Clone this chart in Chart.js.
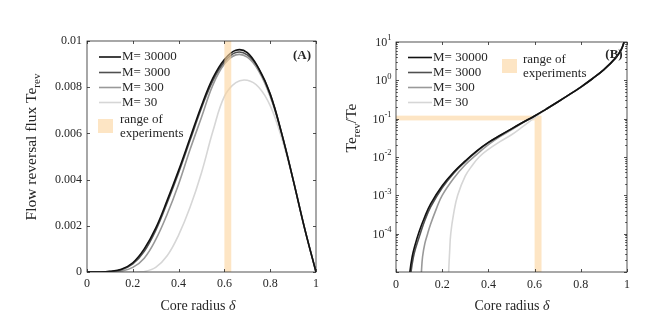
<!DOCTYPE html>
<html>
<head>
<meta charset="utf-8">
<script src="https://cdn.jsdelivr.net/npm/chart.js@4.4.1/dist/chart.umd.min.js"></script>
<style>
  body { margin: 0; background: #fff; }
  #page { position: relative; width: 664px; height: 331px; overflow: hidden; background: #fff; }
  #chartA { position: absolute; left: 0; top: 0; }
  #chartB { position: absolute; left: 332px; top: 0; }
</style>
</head>
<body>
<div id="page">
  <canvas id="chartA" width="332" height="331"></canvas>
  <canvas id="chartB" width="332" height="331"></canvas>
</div>
<script>
// ---- data ----
const seriesNames = ['M= 30000', 'M= 3000', 'M= 300', 'M= 30'];
const seriesColors = ['#111111', '#505050', '#999999', '#d6d6d6'];

// (A) flow reversal flux Te_rev vs core radius
const deltaA = [0, 0.05, 0.1, 0.15, 0.2, 0.25, 0.3, 0.35, 0.4, 0.45, 0.5, 0.55, 0.6, 0.65, 0.7, 0.75, 0.8, 0.85, 0.9, 0.95, 1];
const fluxM30000 = [0, 0, 0.00003, 0.00012, 0.0004, 0.001, 0.0019, 0.0031, 0.0044, 0.0058, 0.0072, 0.0084, 0.0092, 0.0096, 0.0095, 0.0088, 0.0077, 0.006, 0.004, 0.0019, 0];
const fluxM3000 = [0, 0, 0.00002, 0.0001, 0.00035, 0.0009, 0.0018, 0.003, 0.0043, 0.0057, 0.0071, 0.0083, 0.0091, 0.0095, 0.0094, 0.0088, 0.0077, 0.006, 0.004, 0.0019, 0];
const fluxM300 = [0, 0, 0, 0.00004, 0.0002, 0.0006, 0.0014, 0.0025, 0.0038, 0.0053, 0.0067, 0.0081, 0.009, 0.0094, 0.0093, 0.0087, 0.0076, 0.006, 0.004, 0.0019, 0];
const fluxM30 = [0, 0, 0, 0, 0, 0.00002, 0.0002, 0.0007, 0.0016, 0.0028, 0.0043, 0.0061, 0.0076, 0.0082, 0.0083, 0.008, 0.0072, 0.0058, 0.004, 0.0019, 0];

// (B) Te_rev/Te vs core radius (log axis)
const deltaB30000 = [0.055, 0.06, 0.07, 0.08, 0.1, 0.125, 0.15, 0.2, 0.25, 0.3, 0.35, 0.4, 0.45, 0.5, 0.55, 0.6, 0.65, 0.7, 0.75, 0.8, 0.85, 0.9, 0.95, 0.975, 0.99];
const ratioM30000 = [4.5e-6, 1.0e-5, 2.5e-5, 4.5e-5, 1.12e-4, 2.8e-4, 6.0e-4, 1.78e-3, 4.07e-3, 7.94e-3, 0.0145, 0.024, 0.0363, 0.0543, 0.0804, 0.1175, 0.178, 0.272, 0.422, 0.668, 1.1, 1.91, 3.8, 6.31, 11.2];
const deltaB3000 = [0.06, 0.065, 0.075, 0.085, 0.105, 0.125, 0.15, 0.2, 0.25, 0.3, 0.35, 0.4, 0.45, 0.5, 0.55, 0.6, 0.65, 0.7, 0.75, 0.8, 0.85, 0.9, 0.95, 0.975, 0.99];
const ratioM3000 = [4.0e-6, 1.0e-5, 2.4e-5, 4.2e-5, 1.0e-4, 2.24e-4, 5.0e-4, 1.58e-3, 3.8e-3, 7.6e-3, 0.0141, 0.0237, 0.0363, 0.0543, 0.0804, 0.1175, 0.178, 0.272, 0.422, 0.668, 1.1, 1.91, 3.8, 6.31, 11.2];
const deltaB300 = [0.105, 0.11, 0.115, 0.125, 0.137, 0.15, 0.175, 0.2, 0.25, 0.3, 0.35, 0.4, 0.45, 0.5, 0.55, 0.6, 0.65, 0.7, 0.75, 0.8, 0.85, 0.9, 0.95, 0.975, 0.99];
const ratioM300 = [3.2e-6, 1.0e-5, 2.5e-5, 5.6e-5, 1.0e-4, 1.78e-4, 4.5e-4, 1.0e-3, 2.8e-3, 6.3e-3, 0.0117, 0.0209, 0.0339, 0.0513, 0.0794, 0.1175, 0.178, 0.272, 0.422, 0.668, 1.1, 1.91, 3.8, 6.31, 11.2];
const deltaB30 = [0.226, 0.228, 0.232, 0.237, 0.25, 0.267, 0.3, 0.33, 0.36, 0.4, 0.45, 0.5, 0.55, 0.6, 0.65, 0.7, 0.75, 0.8, 0.85, 0.9, 0.95, 0.975, 0.99];
const ratioM30 = [3.2e-6, 1.0e-5, 3.2e-5, 1.0e-4, 3.5e-4, 1.0e-3, 3.2e-3, 6.0e-3, 0.01, 0.0158, 0.0251, 0.038, 0.063, 0.107, 0.174, 0.272, 0.422, 0.668, 1.1, 1.91, 3.8, 6.31, 11.2];

// range of experiments
const bandDelta = [0.6, 0.63];
const bandRatio = [0.09, 0.12];

// ticks
const xTickVals = [0, 0.2, 0.4, 0.6, 0.8, 1];
const xTickLabels = ['0', '0.2', '0.4', '0.6', '0.8', '1'];
const yTickValsA = [0, 0.002, 0.004, 0.006, 0.008, 0.01];
const yTickLabelsA = ['0', '0.002', '0.004', '0.006', '0.008', '0.01'];
const yTickValsB = [1e-5, 1e-4, 1e-3, 1e-2, 1e-1, 1, 10];
const yTickExpB = ['', '-4', '-3', '-2', '-1', '0', '1'];

const FONT = "'Liberation Serif', 'DejaVu Serif', serif";
const INK = '#262626';
const BAND = 'rgba(252, 212, 157, 0.6)';
Chart.defaults.font.family = FONT;

function pts(xs, ys) {
  return xs.map((x, i) => ({ x: x, y: ys[i] }));
}

function makeDatasets(pairs) {
  return pairs.map((p, i) => ({
    label: seriesNames[i],
    data: pts(p[0], p[1]),
    borderColor: seriesColors[i],
    borderWidth: 1.6,
    pointRadius: 0,
    fill: false
  }));
}

// box round the plot with MATLAB style inward ticks
function drawFrame(chart, yVals, minor) {
  const { ctx, chartArea: a, scales: { x, y } } = chart;
  ctx.save();
  ctx.strokeStyle = INK;
  ctx.lineWidth = 0.8;
  ctx.strokeRect(a.left, a.top, a.right - a.left, a.bottom - a.top);
  ctx.beginPath();
  xTickVals.forEach(v => {
    const px = Math.round(x.getPixelForValue(v)) + 0.5;
    ctx.moveTo(px, a.bottom); ctx.lineTo(px, a.bottom - 3);
    ctx.moveTo(px, a.top); ctx.lineTo(px, a.top + 3);
  });
  yVals.forEach(v => {
    const py = Math.round(y.getPixelForValue(v)) + 0.5;
    ctx.moveTo(a.left, py); ctx.lineTo(a.left + 3, py);
    ctx.moveTo(a.right, py); ctx.lineTo(a.right - 3, py);
  });
  if (minor) {
    yVals.slice(0, -1).forEach(v => {
      for (let k = 2; k <= 9; k++) {
        const py = Math.round(y.getPixelForValue(v * k)) + 0.5;
        ctx.moveTo(a.left, py); ctx.lineTo(a.left + 1.8, py);
        ctx.moveTo(a.right, py); ctx.lineTo(a.right - 1.8, py);
      }
    });
  }
  ctx.stroke();
  ctx.restore();
}

function drawLegend(ctx, lineX0, lineX1, rows) {
  ctx.save();
  ctx.font = '13px ' + FONT;
  ctx.textBaseline = 'middle';
  ctx.fillStyle = INK;
  seriesNames.forEach((name, i) => {
    ctx.strokeStyle = seriesColors[i];
    ctx.lineWidth = 1.6;
    ctx.beginPath();
    ctx.moveTo(lineX0, rows[i]);
    ctx.lineTo(lineX1, rows[i]);
    ctx.stroke();
    ctx.fillText(name, lineX1 + 1, rows[i]);
  });
  ctx.restore();
}

function drawPatch(ctx, x, y, w, h, tx) {
  ctx.save();
  ctx.fillStyle = BAND;
  ctx.fillRect(x, y, w, h);
  ctx.font = '13px ' + FONT;
  ctx.textBaseline = 'middle';
  ctx.fillStyle = INK;
  ctx.fillText('range of', tx, y + 1);
  ctx.fillText('experiments', tx, y + 15);
  ctx.restore();
}

function drawXTitle(ctx, cx, cy) {
  ctx.save();
  ctx.fillStyle = INK;
  ctx.textBaseline = 'middle';
  ctx.font = '14px ' + FONT;
  const t1 = 'Core radius ';
  const w1 = ctx.measureText(t1).width;
  ctx.font = 'italic 14px ' + FONT;
  const w2 = ctx.measureText('\u03b4').width;
  let x0 = cx - (w1 + w2) / 2;
  ctx.font = '14px ' + FONT;
  ctx.fillText(t1, x0, cy);
  ctx.font = 'italic 14px ' + FONT;
  ctx.fillText('\u03b4', x0 + w1, cy);
  ctx.restore();
}

// rotated y title with a "rev" subscript
function drawYTitle(ctx, cx, cy, before, sub, after, size) {
  ctx.save();
  ctx.translate(cx, cy);
  ctx.rotate(-Math.PI / 2);
  ctx.fillStyle = INK;
  ctx.textBaseline = 'middle';
  const big = size + 'px ' + FONT;
  const small = Math.round(size * 0.7) + 'px ' + FONT;
  ctx.font = big;
  const w1 = ctx.measureText(before).width;
  const w3 = ctx.measureText(after).width;
  ctx.font = small;
  const w2 = ctx.measureText(sub).width;
  let x0 = -(w1 + w2 + w3) / 2;
  ctx.font = big;
  ctx.fillText(before, x0, 0);
  ctx.font = small;
  ctx.fillText(sub, x0 + w1, size * 0.3);
  ctx.font = big;
  ctx.fillText(after, x0 + w1 + w2, 0);
  ctx.restore();
}

function drawPanelTag(ctx, text, cx, cy) {
  ctx.save();
  ctx.font = 'bold 13px ' + FONT;
  ctx.fillStyle = INK;
  ctx.textAlign = 'center';
  ctx.textBaseline = 'middle';
  ctx.fillText(text, cx, cy);
  ctx.restore();
}

function axisCommon(extra) {
  return Object.assign({
    grid: { display: false, drawTicks: false, tickLength: 0 },
    border: { display: false }
  }, extra);
}

// ---- (A) ----
const chartA = new Chart(document.getElementById('chartA'), {
  type: 'line',
  data: {
    datasets: makeDatasets([
      [deltaA, fluxM30000], [deltaA, fluxM3000], [deltaA, fluxM300], [deltaA, fluxM30]
    ])
  },
  options: {
    responsive: false,
    animation: false,
    layout: { padding: { left: 27, right: 16, top: 41, bottom: 19 } },
    elements: { line: { tension: 0.4 } },
    plugins: { legend: { display: false }, tooltip: { enabled: false } },
    scales: {
      x: axisCommon({
        type: 'linear', min: 0, max: 1,
        afterFit: s => { s.height = 40; },
        afterBuildTicks: s => { s.ticks = xTickVals.map(v => ({ value: v })); },
        ticks: { padding: 5, color: INK, font: { size: 12 }, maxRotation: 0,
          callback: (v, i) => xTickLabels[i] }
      }),
      y: axisCommon({
        min: 0, max: 0.01,
        afterFit: s => { s.width = 60; },
        afterBuildTicks: s => { s.ticks = yTickValsA.map(v => ({ value: v })); },
        ticks: { padding: 5, color: INK, font: { size: 12 },
          callback: (v, i) => yTickLabelsA[i] }
      })
    }
  },
  plugins: [{
    id: 'decorA',
    afterDatasetsDraw(chart) {
      const { ctx, chartArea: a, scales: { x } } = chart;
      const x0 = x.getPixelForValue(bandDelta[0]);
      const x1 = x.getPixelForValue(bandDelta[1]);
      ctx.save();
      ctx.fillStyle = BAND;
      ctx.fillRect(x0, a.top, x1 - x0, a.bottom - a.top);
      ctx.restore();
      drawFrame(chart, yTickValsA, false);
    },
    afterDraw(chart) {
      const ctx = chart.ctx;
      drawLegend(ctx, 99, 121, [57, 72.5, 87.5, 102.5]);
      drawPatch(ctx, 98, 119, 15, 14, 120);
      drawPanelTag(ctx, '(A)', 302, 56);
      drawXTitle(ctx, 198, 306);
      drawYTitle(ctx, 32, 147, 'Flow reversal flux Te', 'rev', '', 15.5);
    }
  }]
});

// ---- (B) ----
const chartB = new Chart(document.getElementById('chartB'), {
  type: 'line',
  data: {
    datasets: makeDatasets([
      [deltaB30000, ratioM30000], [deltaB3000, ratioM3000], [deltaB300, ratioM300], [deltaB30, ratioM30]
    ])
  },
  options: {
    responsive: false,
    animation: false,
    layout: { padding: { left: 4, right: 37, top: 42, bottom: 19 } },
    elements: { line: { tension: 0.4 } },
    plugins: { legend: { display: false }, tooltip: { enabled: false } },
    scales: {
      x: axisCommon({
        type: 'linear', min: 0, max: 1,
        afterFit: s => { s.height = 40; },
        afterBuildTicks: s => { s.ticks = xTickVals.map(v => ({ value: v })); },
        ticks: { padding: 6, color: INK, font: { size: 12 }, maxRotation: 0,
          callback: (v, i) => xTickLabels[i] }
      }),
      y: axisCommon({
        type: 'logarithmic', min: 1e-5, max: 10,
        afterFit: s => { s.width = 60; },
        afterBuildTicks: s => { s.ticks = yTickValsB.map(v => ({ value: v })); },
        ticks: { callback: () => '' }
      })
    }
  },
  plugins: [{
    id: 'decorB',
    beforeDatasetsDraw(chart) {
      const { ctx, scales: { x, y } } = chart;
      const x0 = x.getPixelForValue(0);
      const xa = x.getPixelForValue(bandDelta[0]);
      const xb = x.getPixelForValue(bandDelta[1]);
      const yTop = y.getPixelForValue(bandRatio[1]);
      const yLow = y.getPixelForValue(bandRatio[0]);
      const yBot = y.getPixelForValue(1e-5);
      ctx.save();
      ctx.fillStyle = BAND;
      ctx.fillRect(x0, yTop, xa - x0, yLow - yTop);
      ctx.fillRect(xa, yTop, xb - xa, yBot - yTop);
      ctx.restore();
    },
    afterDatasetsDraw(chart) {
      drawFrame(chart, yTickValsB, true);
    },
    afterDraw(chart) {
      const { ctx, chartArea: a, scales: { y } } = chart;
      // log tick labels 10^n
      ctx.save();
      ctx.fillStyle = INK;
      ctx.textBaseline = 'middle';
      yTickValsB.forEach((v, i) => {
        const ex = yTickExpB[i];
        if (!ex) return;
        const py = y.getPixelForValue(v);
        ctx.font = '12px ' + FONT;
        const wb = ctx.measureText('10').width;
        ctx.font = '8.5px ' + FONT;
        const we = ctx.measureText(ex).width;
        const xr = a.left - 4.5;
        ctx.font = '12px ' + FONT;
        ctx.fillText('10', xr - we - wb, py + 1);
        ctx.font = '8.5px ' + FONT;
        ctx.fillText(ex, xr - we, py - 4);
      });
      ctx.restore();
      drawLegend(ctx, 408 - 332, 432 - 332, [57.5, 72.5, 87.5, 102.5]);
      drawPatch(ctx, 502 - 332, 59, 15, 14, 523 - 332);
      drawPanelTag(ctx, '(B)', 614 - 332, 55);
      drawXTitle(ctx, 512 - 332, 306.5);
      drawYTitle(ctx, 20, 128, 'Te', 'rev', '/Te', 15.5);
    }
  }]
});
</script>
</body>
</html>
